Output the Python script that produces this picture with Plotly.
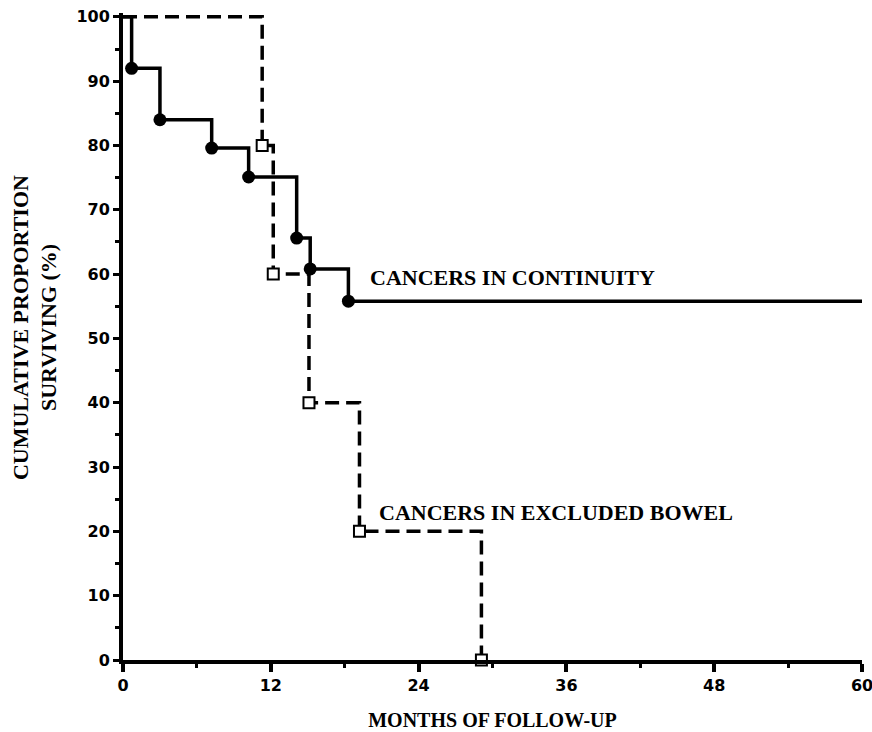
import plotly.graph_objects as go

# Data
cont_months = [0, 0.7, 3.0, 7.2, 10.2, 14.1, 15.2, 18.3, 60]
cont_surv = [100, 92, 84, 79.6, 75.1, 65.6, 60.8, 55.8, 55.8]
excl_months = [0, 11.3, 12.2, 15.1, 19.2, 29.1]
excl_surv = [100, 80, 60, 40, 20, 0]

x_ticks = [0, 12, 24, 36, 48, 60]
y_ticks = [0, 10, 20, 30, 40, 50, 60, 70, 80, 90, 100]

label_cont = "CANCERS IN CONTINUITY"
label_excl = "CANCERS IN EXCLUDED BOWEL"
y_title_lines = ["CUMULATIVE PROPORTION", "SURVIVING (%)"]

fig = go.Figure()

fig.add_trace(go.Scatter(
    x=cont_months, y=cont_surv, mode="lines", line_shape="hv",
    line=dict(color="black", width=3.5), cliponaxis=False, showlegend=False))
fig.add_trace(go.Scatter(
    x=excl_months, y=excl_surv, mode="lines", line_shape="hv",
    line=dict(color="black", width=3.5, dash="14px,7px"), cliponaxis=False, showlegend=False))
fig.add_trace(go.Scatter(
    x=cont_months[1:-1], y=cont_surv[1:-1], mode="markers",
    marker=dict(symbol="circle", size=13, color="black"), cliponaxis=False, showlegend=False))
fig.add_trace(go.Scatter(
    x=excl_months[1:], y=excl_surv[1:], mode="markers",
    marker=dict(symbol="square", size=11, color="white", line=dict(color="black", width=2)),
    cliponaxis=False, showlegend=False))

fig.add_annotation(x=19.9, y=59.4, text="<b>" + label_cont + "</b>", showarrow=False,
                   xanchor="left", yanchor="middle",
                   font=dict(family="Liberation Serif", size=22, color="black"))
fig.add_annotation(x=20.6, y=22.9, text="<b>" + label_excl + "</b>", showarrow=False,
                   xanchor="left", yanchor="middle",
                   font=dict(family="Liberation Serif", size=22, color="black"))

# y-axis title as two rotated lines (wider line spacing as in the reference)
for line_text, shift in zip(y_title_lines, [-103, -75]):
    fig.add_annotation(xref="paper", yref="paper", x=0, y=0.513, xshift=shift,
                       text="<b>" + line_text + "</b>", showarrow=False, textangle=-90,
                       xanchor="center", yanchor="middle",
                       font=dict(family="Liberation Serif", size=22, color="black"))

tick_font = dict(family="DejaVu Sans", size=16, color="black")
title_font = dict(family="Liberation Serif", size=20, color="black")

fig.update_xaxes(
    range=[0, 60], tickvals=x_ticks, ticktext=[f"<b>{v}</b>" for v in x_ticks],
    showline=True, linecolor="black", linewidth=4, showgrid=False, zeroline=False,
    ticks="outside", ticklen=8, tickwidth=4, tickcolor="black", tickfont=tick_font,
    ticklabeloverflow="allow",
    minor=dict(tickvals=[6, 18, 30, 42, 54], ticks="outside", ticklen=4, tickwidth=3, tickcolor="black"),
    title=dict(text="<b>MONTHS OF FOLLOW-UP</b>", font=title_font, standoff=20),
    automargin=False,
)
fig.update_yaxes(
    range=[0, 100.6], tickvals=y_ticks, ticktext=[f"<b>{v}</b>" for v in y_ticks],
    showline=True, linecolor="black", linewidth=4, showgrid=False, zeroline=False,
    ticks="outside", ticklen=6, tickwidth=3, tickcolor="black", tickfont=tick_font,
    ticklabeloverflow="allow",
    minor=dict(tickvals=[5, 15, 25, 35, 45, 55, 65, 75, 85, 95], ticks="outside",
               ticklen=4, tickwidth=3, tickcolor="black"),
    automargin=False,
)

fig.update_layout(
    width=872, height=732,
    margin=dict(l=123, r=10, t=13, b=72),
    plot_bgcolor="white", paper_bgcolor="white",
)

fig.write_html("out.html")
